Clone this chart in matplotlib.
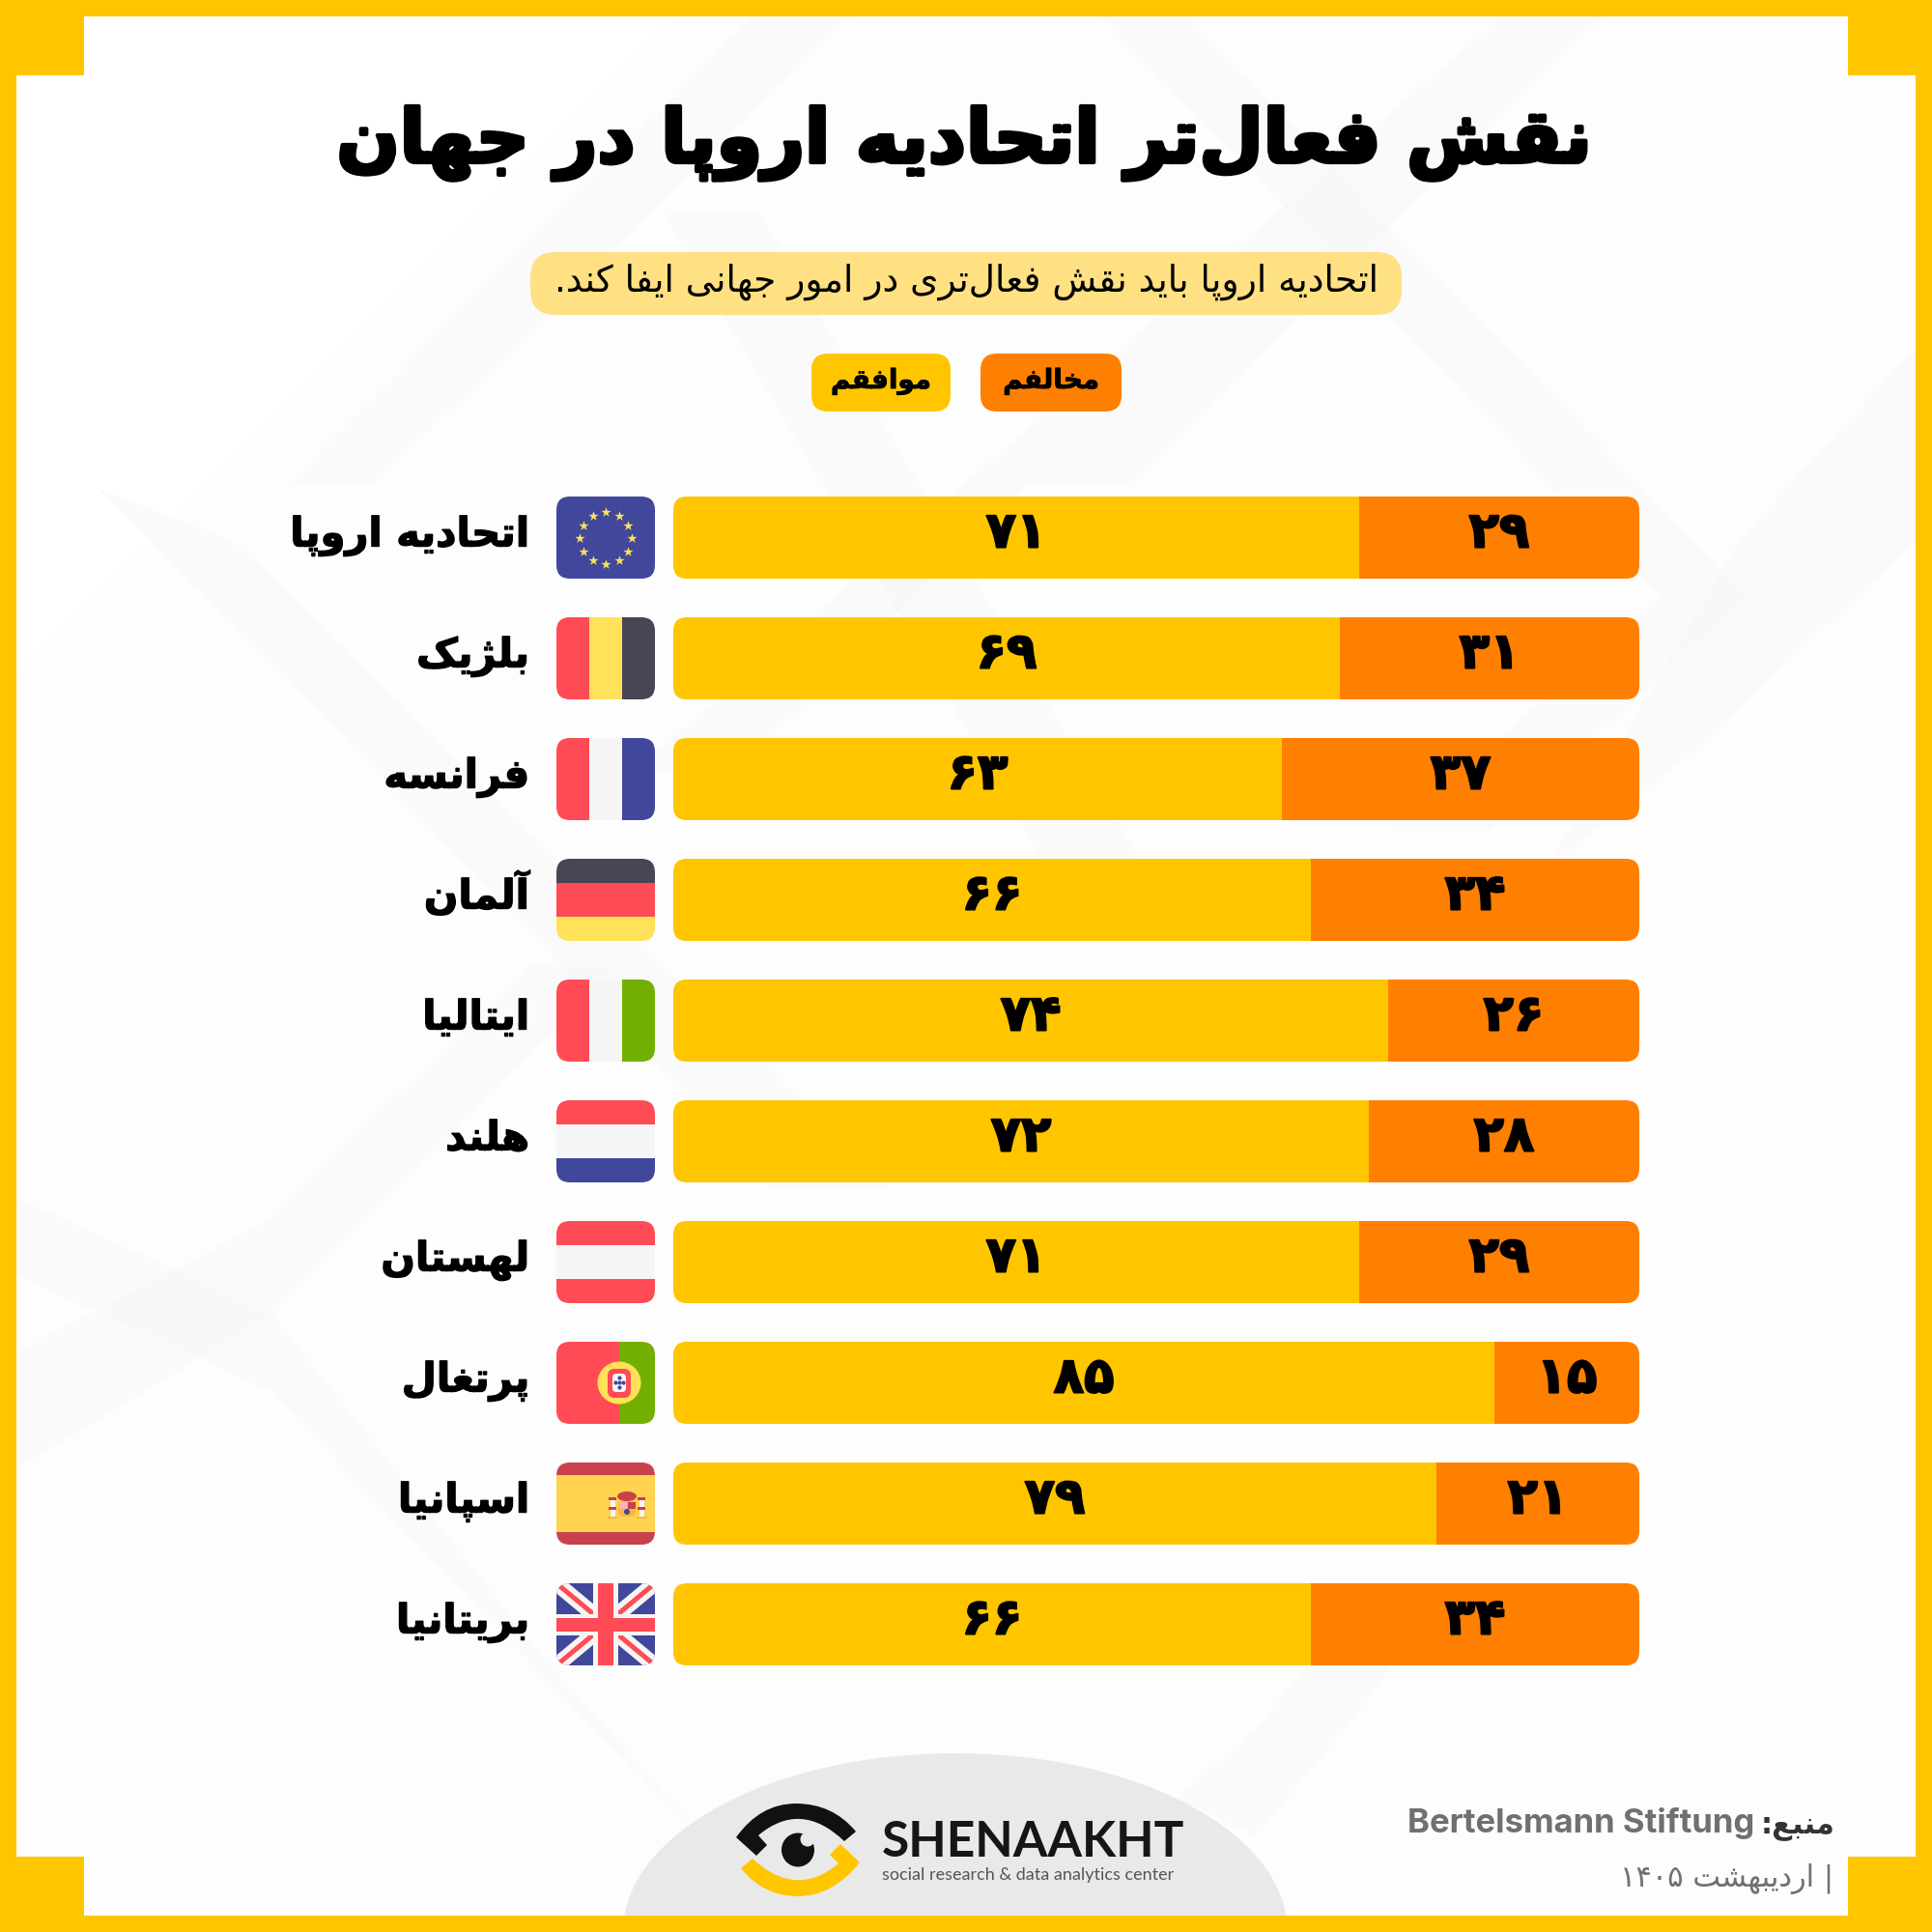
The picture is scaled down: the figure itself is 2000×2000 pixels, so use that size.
import re
import numpy as np
import matplotlib
matplotlib.use("Agg")
import matplotlib.pyplot as plt
import matplotlib.patheffects as pe
from matplotlib.patches import Rectangle, FancyBboxPatch, Ellipse, Polygon, PathPatch, Circle
from matplotlib.path import Path

countries = ["اتحادیه اروپا", "بلژیک", "فرانسه", "آلمان", "ایتالیا", "هلند", "لهستان", "پرتغال", "اسپانیا", "بریتانیا"]
agree = [71, 69, 63, 66, 74, 72, 71, 85, 79, 66]
oppose = [29, 31, 37, 34, 26, 28, 29, 15, 21, 34]

title = "نقش فعال\u200cتر اتحادیه اروپا در جهان"
subtitle = "اتحادیه اروپا باید نقش فعال\u200cتری در امور جهانی ایفا کند."
agree_label = "موافقم"
oppose_label = "مخالفم"
source_label = "منبع:"
source_name = "Bertelsmann Stiftung"
date_label = "| اردیبهشت ۱۴۰۵"
brand = "SHENAAKHT"
brand_tag = "social research & data analytics center"

YELLOW = "#FFC600"
ORANGE = "#FF7F00"
PILL = "#FFE082"
RED = "#FF4B55"
FLAG_YELLOW = "#FFE15A"
DARK = "#464655"
BLUE = "#41479B"
WHITE = "#F5F5F5"
GREEN = "#73AF00"
PX = 0.72  # points per pixel at 100 dpi

# presentation forms: isolated, final, initial, medial
FORMS = {
    "ا": "\uFE8D\uFE8E", "آ": "\uFE81\uFE82", "د": "\uFEA9\uFEAA", "ر": "\uFEAD\uFEAE",
    "ژ": "\uFB8A\uFB8B", "و": "\uFEED\uFEEE",
    "ب": "\uFE8F\uFE90\uFE91\uFE92", "پ": "\uFB56\uFB57\uFB58\uFB59", "ت": "\uFE95\uFE96\uFE97\uFE98",
    "ج": "\uFE9D\uFE9E\uFE9F\uFEA0", "ح": "\uFEA1\uFEA2\uFEA3\uFEA4", "خ": "\uFEA5\uFEA6\uFEA7\uFEA8",
    "س": "\uFEB1\uFEB2\uFEB3\uFEB4", "ش": "\uFEB5\uFEB6\uFEB7\uFEB8", "ع": "\uFEC9\uFECA\uFECB\uFECC",
    "غ": "\uFECD\uFECE\uFECF\uFED0", "ف": "\uFED1\uFED2\uFED3\uFED4", "ق": "\uFED5\uFED6\uFED7\uFED8",
    "ک": "\uFB8E\uFB8F\uFB90\uFB91", "ل": "\uFEDD\uFEDE\uFEDF\uFEE0", "م": "\uFEE1\uFEE2\uFEE3\uFEE4",
    "ن": "\uFEE5\uFEE6\uFEE7\uFEE8", "ه": "\uFEE9\uFEEA\uFEEB\uFEEC", "ی": "\uFBFC\uFBFD\uFBFE\uFBFF",
}


def fa(text):
    """Shape Persian text and put it in visual order, matplotlib does neither."""
    out = []
    for i, ch in enumerate(text):
        if ch not in FORMS:
            if ch != "\u200c":
                out.append(ch)
            continue
        prev = text[i - 1] if i > 0 else ""
        nxt = text[i + 1] if i + 1 < len(text) else ""
        joins_prev = prev in FORMS and len(FORMS[prev]) == 4
        joins_next = nxt in FORMS and len(FORMS[ch]) == 4
        if joins_prev and joins_next:
            out.append(FORMS[ch][3])
        elif joins_next:
            out.append(FORMS[ch][2])
        elif joins_prev:
            out.append(FORMS[ch][1])
        else:
            out.append(FORMS[ch][0])
    visual = "".join(out)[::-1]
    return re.sub("[۰-۹]+", lambda m: m.group(0)[::-1], visual)


def fa_num(value):
    return str(value).translate(str.maketrans("0123456789", "۰۱۲۳۴۵۶۷۸۹"))


def heavy(width):
    return [pe.withStroke(linewidth=width, foreground="black")]


fig = plt.figure(figsize=(20, 20), dpi=100, facecolor="#FDFDFD")
bg = fig.add_axes([0, 0, 1, 1])
bg.set_xlim(0, 2000)
bg.set_ylim(2000, 0)
bg.axis("off")

bg.add_patch(Polygon([(17, 17), (700, 17), (17, 700)], closed=True, facecolor="white", edgecolor="none", zorder=1))

# faint diagonal bands behind everything
bands = [
    [(1140, 17), (1230, 17), (1810, 620), (1720, 620)],
    [(1810, 620), (1720, 620), (1440, 860), (1540, 860)],
    [(1555, 17), (1660, 17), (1169, 500), (1064, 500), (760, 800), (655, 800)],
    [(880, 17), (780, 17), (300, 500), (389, 500)],
    [(685, 217), (784, 217), (950, 500), (1200, 925), (1100, 925), (851, 500)],
    [(240, 560), (280, 595), (920, 1230), (800, 1230), (280, 683), (100, 505)],
    [(17, 1400), (280, 1263), (547, 1000), (640, 1000), (282, 1361), (17, 1520)],
    [(17, 1240), (282, 1361), (563, 1717), (720, 1892), (620, 1795), (280, 1440), (17, 1320)],
    [(1309, 1780), (1220, 1862), (1300, 1900), (1400, 1780), (1500, 1640), (1420, 1640)],
    [(1600, 900), (1750, 780), (1983, 560), (1983, 360), (1800, 560)],
]
for band in bands:
    bg.add_patch(Polygon(band, closed=True, facecolor="#F8F8F8", edgecolor="none", alpha=0.6, zorder=1.5))

# logo backdrop
bg.add_patch(Ellipse((989, 2000), 688, 370, facecolor="#E9E9E9", edgecolor="none", zorder=2))

# frame strips and corner notches
frame_rects = [
    (0, 0, 2000, 17), (0, 1983, 2000, 17), (0, 0, 17, 2000), (1983, 0, 17, 2000),
    (0, 0, 87, 78), (1913, 0, 87, 78), (0, 1922, 87, 78), (1913, 1922, 87, 78),
]
for x, y, w, h in frame_rects:
    bg.add_patch(Rectangle((x, y), w, h, facecolor=YELLOW, edgecolor="none", zorder=3))

bg.text(998, 168, fa(title), fontsize=55, fontweight="bold", ha="center", va="baseline",
        color="black", path_effects=heavy(3), zorder=5)


def pill(x0, y0, x1, y1, color, radius):
    bg.add_patch(FancyBboxPatch((x0, y0), x1 - x0, y1 - y0, boxstyle=f"round,pad=0,rounding_size={radius}",
                                facecolor=color, edgecolor="none", zorder=4))


pill(549, 261, 1451, 326, PILL, 26)
bg.text(1000, 302, fa(subtitle), fontsize=27, ha="center", va="baseline", color="black", zorder=5)

pill(840, 366, 984, 426, YELLOW, 17)
pill(1015, 366, 1161, 426, ORANGE, 17)
bg.text(912, 402, fa(agree_label), fontsize=20, fontweight="bold", ha="center", va="baseline",
        path_effects=heavy(0.6), zorder=5)
bg.text(1088, 402, fa(oppose_label), fontsize=20, fontweight="bold", ha="center", va="baseline",
        path_effects=heavy(0.6), zorder=5)

# stacked bars in their own axes, 0-100 across 1000 px
TOP, STEP, H = 514, 125, 85
BAR_X0, BAR_X1 = 697, 1697
ax = fig.add_axes([BAR_X0 / 2000, 1 - (TOP + 9 * STEP + H) / 2000, (BAR_X1 - BAR_X0) / 2000, (9 * STEP + H) / 2000])
ax.set_xlim(0, 100)
half = H / STEP / 2
ax.set_ylim(9 + half, -half)
ax.axis("off")
rows = np.arange(len(countries))
bars_a = ax.barh(rows, agree, height=H / STEP, color=YELLOW, linewidth=0)
bars_o = ax.barh(rows, oppose, left=agree, height=H / STEP, color=ORANGE, linewidth=0)


def rounded(x, y, w, h, radius=14):
    return FancyBboxPatch((x, y), w, h, boxstyle=f"round,pad=0,rounding_size={radius}",
                          transform=bg.transData, facecolor="none", edgecolor="none")


for i in rows:
    clip = rounded(BAR_X0, TOP + STEP * i, BAR_X1 - BAR_X0, H)
    bars_a[i].set_clip_path(clip)
    bars_o[i].set_clip_path(clip)
    ax.annotate(fa(fa_num(agree[i])), (agree[i] / 2, i), xytext=(0, -10 * PX), textcoords="offset points",
                ha="center", va="baseline", fontsize=37, fontweight="bold", path_effects=heavy(1.5))
    ax.annotate(fa(fa_num(oppose[i])), (agree[i] + oppose[i] / 2, i), xytext=(0, -10 * PX), textcoords="offset points",
                ha="center", va="baseline", fontsize=37, fontweight="bold", path_effects=heavy(1.5))
    ax.annotate(fa(countries[i]), (0, i), xytext=(-(BAR_X0 - 548) * PX, -9 * PX), textcoords="offset points",
                ha="right", va="baseline", fontsize=30, fontweight="bold", path_effects=heavy(1),
                annotation_clip=False)

# flags
FLAG_X, FLAG_W = 576, 102


def stripes(i, colors, sizes, vertical):
    y = TOP + STEP * i
    clip = rounded(FLAG_X, y, FLAG_W, H)
    pos = 0
    for c, s in zip(colors, sizes):
        if vertical:
            r = Rectangle((FLAG_X + pos, y), s, H, facecolor=c, edgecolor="none", zorder=4)
        else:
            r = Rectangle((FLAG_X, y + pos), FLAG_W, s, facecolor=c, edgecolor="none", zorder=4)
        bg.add_patch(r)
        r.set_clip_path(clip)
        pos += s
    return clip


stripes(0, [BLUE], [102], True)
angles = np.deg2rad(np.arange(0, 360, 30))
bg.scatter(627 + 27 * np.cos(angles), 557 + 27 * np.sin(angles), marker="*", s=60, color=FLAG_YELLOW,
           linewidths=0, zorder=5)

stripes(1, [RED, FLAG_YELLOW, DARK], [34, 34, 34], True)
stripes(2, [RED, WHITE, BLUE], [34, 34, 34], True)
stripes(3, [DARK, RED, FLAG_YELLOW], [25, 35, 25], False)
stripes(4, [RED, WHITE, GREEN], [34, 34, 34], True)
stripes(5, [RED, WHITE, BLUE], [25, 35, 25], False)
stripes(6, [RED, WHITE, RED], [25, 35, 25], False)

# Portugal with its small shield
stripes(7, [RED, GREEN], [65, 37], True)
bg.add_patch(Ellipse((641, 1431.5), 45, 44, facecolor=FLAG_YELLOW, edgecolor="none", zorder=5))
bg.add_patch(FancyBboxPatch((629, 1417), 24, 30, boxstyle="round,pad=0,rounding_size=7", facecolor=RED,
                            edgecolor="none", zorder=6))
bg.add_patch(FancyBboxPatch((634, 1422), 14, 19, boxstyle="round,pad=0,rounding_size=4", facecolor=WHITE,
                            edgecolor="none", zorder=7))
bg.scatter([641, 637, 645, 641, 641], [1431, 1431, 1431, 1426, 1436], s=9, color=BLUE, linewidths=0, zorder=8)

# Spain with a simplified crest
stripes(8, ["#C8414B", "#FFD250", "#C8414B"], [13, 59, 13], False)
for cx in [634, 664]:
    bg.add_patch(Rectangle((cx - 2.5, 1552), 5, 18, facecolor=WHITE, edgecolor="none", zorder=5))
    bg.add_patch(Rectangle((cx - 4, 1550), 8, 3, facecolor="#C8414B", edgecolor="none", zorder=6))
    bg.add_patch(Rectangle((cx - 4, 1560), 8, 3, facecolor="#C8414B", edgecolor="none", zorder=6))
    bg.add_patch(Rectangle((cx - 5, 1570), 10, 2, facecolor="#FFB441", edgecolor="none", zorder=6))
bg.add_patch(Ellipse((649, 1549), 20, 10, facecolor="#C8414B", edgecolor="none", zorder=5))
bg.add_patch(FancyBboxPatch((640, 1554), 18, 16, boxstyle="round,pad=0,rounding_size=5", facecolor="#FFB441",
                            edgecolor="none", zorder=5))
bg.add_patch(Rectangle((641, 1555), 8, 7, facecolor="#FFB4B4", edgecolor="none", zorder=6))
bg.add_patch(Rectangle((650, 1555), 8, 7, facecolor="#C8414B", edgecolor="none", zorder=6))
bg.add_patch(Circle((649, 1565), 3, facecolor=BLUE, edgecolor="none", zorder=7))

# Union flag, layered from the diagonals up
uk_y = TOP + STEP * 9
uk_clip = stripes(9, [BLUE], [102], True)
cx, cy = 627, uk_y + H / 2
for (x0, y0, x1, y1) in [(FLAG_X, uk_y, FLAG_X + FLAG_W, uk_y + H), (FLAG_X, uk_y + H, FLAG_X + FLAG_W, uk_y)]:
    line = bg.plot([x0, x1], [y0, y1], color=WHITE, lw=16 * PX, solid_capstyle="butt", zorder=5)[0]
    line.set_clip_path(uk_clip)
    line = bg.plot([x0, x1], [y0, y1], color=RED, lw=5 * PX, solid_capstyle="butt", zorder=6)[0]
    line.set_clip_path(uk_clip)
cross = [
    (cx - 13, uk_y, 26, H, WHITE), (FLAG_X, cy - 11, FLAG_W, 22, WHITE),
    (cx - 8, uk_y, 16, H, RED), (FLAG_X, cy - 7, FLAG_W, 14, RED),
]
for x, y, w, h, c in cross:
    r = Rectangle((x, y), w, h, facecolor=c, edgecolor="none", zorder=7)
    bg.add_patch(r)
    r.set_clip_path(uk_clip)

# logo mark
top_arc = Path(
    [(762, 1902), (787, 1867), (824, 1867), (862, 1867), (886, 1896), (874, 1906), (829, 1863),
     (785, 1900), (794, 1910), (783, 1921), (762, 1902)],
    [Path.MOVETO, Path.CURVE3, Path.CURVE3, Path.CURVE3, Path.CURVE3, Path.LINETO, Path.CURVE3,
     Path.CURVE3, Path.LINETO, Path.LINETO, Path.CLOSEPOLY])
bottom_arc = Path(
    [(890, 1928), (862, 1963), (826, 1963), (790, 1963), (767, 1934), (779, 1924), (824, 1966),
     (868, 1929), (859, 1920), (870, 1909), (890, 1928)],
    [Path.MOVETO, Path.CURVE3, Path.CURVE3, Path.CURVE3, Path.CURVE3, Path.LINETO, Path.CURVE3,
     Path.CURVE3, Path.LINETO, Path.LINETO, Path.CLOSEPOLY])
bg.add_patch(PathPatch(top_arc, facecolor="#111111", edgecolor="none", zorder=5))
bg.add_patch(PathPatch(bottom_arc, facecolor=YELLOW, edgecolor="none", zorder=5))
bg.add_patch(Ellipse((826, 1915), 34, 35, facecolor="#111111", edgecolor="none", zorder=5))
bg.add_patch(Circle((836, 1904), 7.5, facecolor="#E9E9E9", edgecolor="none", zorder=6))

bg.text(913, 1922, brand, fontsize=37, family="Lato", fontweight="bold", ha="left", va="baseline",
        color="#161616", zorder=5)
bg.text(913, 1946, brand_tag, fontsize=13, family="Lato", ha="left", va="baseline", color="#555555", zorder=5)

# source and date
bg.text(1899, 1897, fa(source_label), fontsize=22, fontweight="bold", ha="right", va="baseline",
        color="#333333", zorder=5)
bg.text(1816, 1897, source_name, fontsize=25, family="Inter", fontweight="bold", ha="right", va="baseline",
        color="#707070", zorder=5)
bg.text(1898, 1953, fa(date_label), fontsize=22, ha="right", va="baseline", color="#707070", zorder=5)

fig.savefig("out.png", dpi=100, facecolor=fig.get_facecolor())
